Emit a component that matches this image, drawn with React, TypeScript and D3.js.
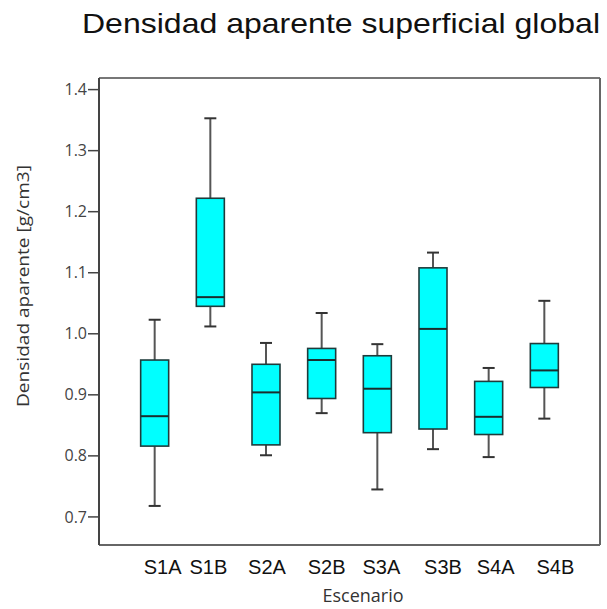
import React from "react";
import * as d3 from "d3";

// Apparent surface density by scenario (five-number summaries, g/cm3)
const scenarios = ["S1A", "S1B", "S2A", "S2B", "S3A", "S3B", "S4A", "S4B"];
const whiskerLow = [0.718, 1.012, 0.801, 0.870, 0.745, 0.811, 0.798, 0.861];
const quartile1 = [0.816, 1.045, 0.818, 0.894, 0.838, 0.844, 0.835, 0.912];
const medians = [0.865, 1.060, 0.904, 0.957, 0.910, 1.008, 0.864, 0.940];
const quartile3 = [0.957, 1.222, 0.950, 0.976, 0.964, 1.108, 0.922, 0.984];
const whiskerHigh = [1.023, 1.353, 0.985, 1.034, 0.983, 1.133, 0.944, 1.054];
const yTicks = [0.7, 0.8, 0.9, 1.0, 1.1, 1.2, 1.3, 1.4];

const W = 607;
const H = 609;
const plot = { left: 99, right: 600, top: 78, bottom: 545 };
// small per-label horizontal nudges for the category labels
const labelShift = [8, -2, 1, 5, 4, 10, 7, 11];

export default function App() {
  const x = d3
    .scalePoint<string>()
    .domain(scenarios)
    .range([plot.left, plot.right])
    .padding(1);
  const y = d3
    .scaleLinear()
    .domain([0.654, 1.419])
    .range([plot.bottom, plot.top]);

  const boxW = 28;
  const capW = 12;
  const rows = scenarios.map((s, i) => ({
    s,
    lo: whiskerLow[i],
    q1: quartile1[i],
    med: medians[i],
    q3: quartile3[i],
    hi: whiskerHigh[i],
  }));

  return (
    <svg
      width={W}
      height={H}
      style={{ position: "absolute", left: 0, top: 0, background: "#fff" }}
    >
      <text
        x={82}
        y={33}
        fontFamily="'Liberation Sans', Arial, sans-serif"
        fontSize={28}
        fill="#111"
        textLength={518}
        lengthAdjust="spacingAndGlyphs"
      >
        Densidad aparente superficial global
      </text>

      {/* plot frame */}
      <line x1={plot.left} x2={plot.right} y1={plot.top} y2={plot.top} stroke="#777" strokeWidth={2} />
      <line x1={plot.right} x2={plot.right} y1={plot.top} y2={plot.bottom} stroke="#666" strokeWidth={2} />
      <line x1={plot.left} x2={plot.right} y1={plot.bottom} y2={plot.bottom} stroke="#666" strokeWidth={2} />
      <line x1={plot.left} x2={plot.left} y1={plot.top} y2={plot.bottom} stroke="#444" strokeWidth={2} />

      {/* y axis */}
      {yTicks.map((t) => (
        <g key={t} transform={`translate(0,${y(t)})`}>
          <line x1={plot.left - 11} x2={plot.left} stroke="#444" strokeWidth={1.5} />
          <text
            x={plot.left - 12}
            dy="0.35em"
            textAnchor="end"
            fontFamily="'Open Sans', sans-serif"
            fontSize={16}
            fill="#444"
          >
            {d3.format(".1f")(t)}
          </text>
        </g>
      ))}
      <text
        transform={`translate(28.5,${286}) rotate(-90)`}
        textAnchor="middle"
        fontFamily="'Open Sans', sans-serif"
        fontSize={16}
        fill="#333"
        textLength={242}
        lengthAdjust="spacingAndGlyphs"
      >
        Densidad aparente [g/cm3]
      </text>

      {/* boxes */}
      {rows.map((r) => {
        const cx = x(r.s)!;
        return (
          <g key={r.s}>
            <line x1={cx} x2={cx} y1={y(r.hi)} y2={y(r.q3)} stroke="#555" strokeWidth={2} />
            <line x1={cx} x2={cx} y1={y(r.q1)} y2={y(r.lo)} stroke="#555" strokeWidth={2} />
            <line x1={cx - capW / 2} x2={cx + capW / 2} y1={y(r.hi)} y2={y(r.hi)} stroke="#333" strokeWidth={2} />
            <line x1={cx - capW / 2} x2={cx + capW / 2} y1={y(r.lo)} y2={y(r.lo)} stroke="#333" strokeWidth={2} />
            <rect
              x={cx - boxW / 2}
              y={y(r.q3)}
              width={boxW}
              height={y(r.q1) - y(r.q3)}
              fill="#00FFFF"
              stroke="#1f3b3b"
              strokeWidth={1.6}
            />
            <line x1={cx - boxW / 2} x2={cx + boxW / 2} y1={y(r.med)} y2={y(r.med)} stroke="#1a2e2e" strokeWidth={2} />
          </g>
        );
      })}

      {/* x labels */}
      {scenarios.map((s, i) => (
        <text
          key={s}
          x={x(s)! + labelShift[i]}
          y={574}
          textAnchor="middle"
          fontFamily="'Liberation Sans', Arial, sans-serif"
          fontSize={20}
          fill="#111"
        >
          {s}
        </text>
      ))}
      <text
        x={363}
        y={602}
        textAnchor="middle"
        fontFamily="'Open Sans', sans-serif"
        fontSize={18}
        fill="#333"
      >
        Escenario
      </text>
    </svg>
  );
}
